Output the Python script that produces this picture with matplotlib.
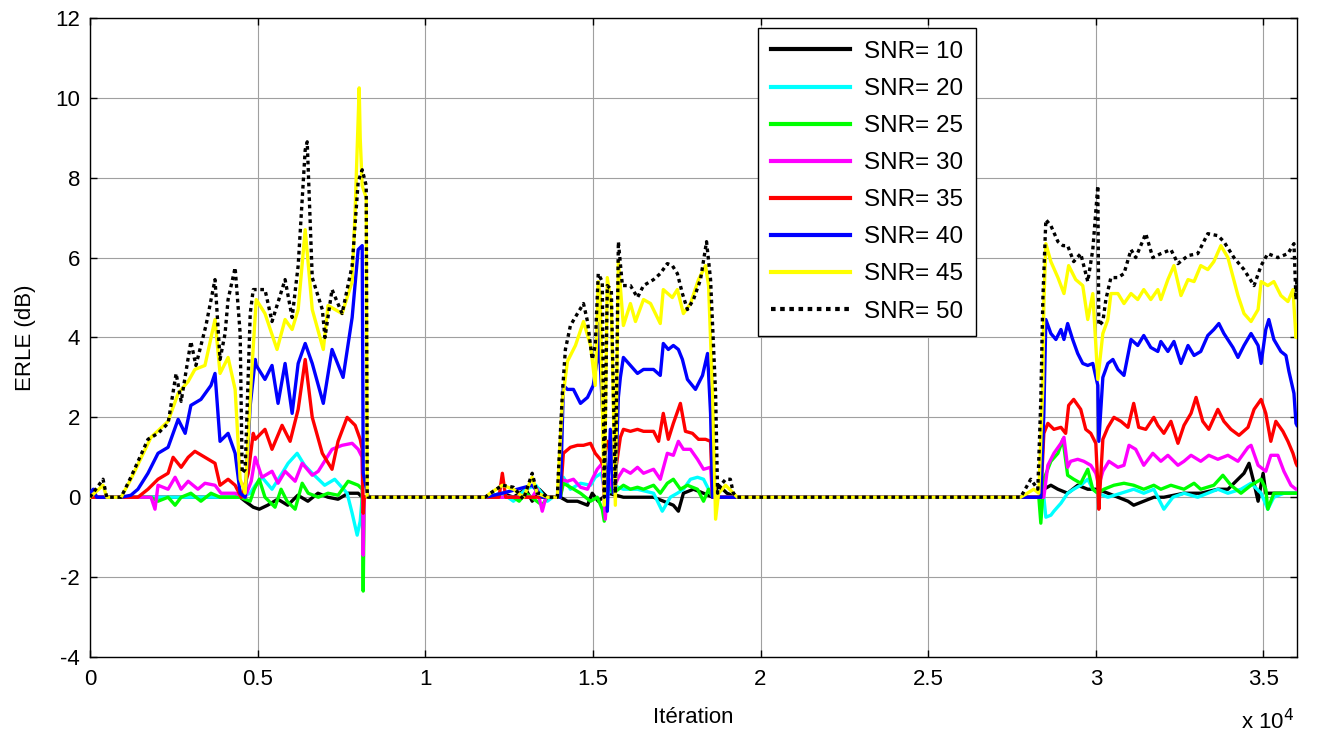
import matplotlib
matplotlib.use("Agg")
import matplotlib.pyplot as plt
from matplotlib import font_manager

# ERLE curves per SNR (x in units of 10^4 iterations, y in dB)
x_snr10 = [0, 0.448, 0.463, 0.487, 0.505, 0.530, 0.560, 0.590, 0.620, 0.650, 0.680, 0.710, 0.740, 0.770, 0.800, 0.812, 0.830,
           1.179, 1.230, 1.263, 1.300, 1.319, 1.340, 1.364, 1.403, 1.424, 1.454, 1.484, 1.498, 1.516, 1.546, 1.591, 1.633, 1.681,
           1.740, 1.755, 1.770, 1.800, 1.830, 1.857, 1.875, 1.900, 1.931,
           2.776, 2.836, 2.845, 2.866, 2.887, 2.916, 2.946, 2.976, 3.006, 3.036, 3.066, 3.096, 3.113, 3.143, 3.173, 3.203, 3.263,
           3.313, 3.364, 3.394, 3.424, 3.442, 3.457, 3.472, 3.484, 3.499, 3.507, 3.543, 3.6]
y_snr10 = [0, 0, -0.1, -0.25, -0.3, -0.2, -0.05, -0.2, 0.05, -0.1, 0.1, 0.0, -0.05, 0.1, 0.1, 0.0, 0.0,
           0.0, 0.1, 0.0, 0.2, -0.1, 0.2, 0.0, 0.0, -0.1, -0.1, -0.2, 0.1, -0.1, 0.1, 0.0, 0.0, 0.0,
           -0.2, -0.35, 0.1, 0.2, 0.1, 0.0, 0.3, 0.1, 0.0,
           0.0, 0.0, 0.2, 0.3, 0.2, 0.1, 0.3, 0.2, 0.2, 0.1, 0.0, -0.1, -0.2, -0.1, 0.0, 0.0, 0.1,
           0.1, 0.2, 0.2, 0.45, 0.6, 0.85, 0.35, -0.1, 0.6, 0.1, 0.1, 0.1]

x_snr20 = [0, 0.448, 0.478, 0.493, 0.513, 0.543, 0.573, 0.591, 0.618, 0.640, 0.663, 0.700, 0.730, 0.767, 0.782, 0.797, 0.806, 0.812, 0.830,
           1.179, 1.230, 1.263, 1.300, 1.330, 1.364, 1.380, 1.403, 1.412, 1.433, 1.463, 1.493, 1.507, 1.525, 1.540, 1.560, 1.591,
           1.633, 1.681, 1.707, 1.731, 1.752, 1.770, 1.791, 1.812, 1.830, 1.851, 1.860, 1.931,
           2.776, 2.845, 2.851, 2.866, 2.875, 2.896, 2.916, 2.934, 2.955, 2.976, 2.991, 3.006, 3.036, 3.075, 3.113, 3.143, 3.173,
           3.203, 3.230, 3.263, 3.304, 3.334, 3.364, 3.394, 3.433, 3.463, 3.493, 3.513, 3.531, 3.561, 3.6]
y_snr20 = [0, 0, 0.1, 0.3, 0.5, 0.2, 0.6, 0.85, 1.1, 0.8, 0.6, 0.3, 0.45, 0.1, -0.4, -0.95, -0.6, 0.0, 0.0,
           0.0, 0.1, -0.1, 0.2, 0.3, -0.1, 0.0, 0.0, 0.5, 0.2, 0.35, 0.3, 0.5, 0.6, 0.0, 0.3, 0.2,
           0.2, 0.1, -0.35, 0.0, 0.1, 0.2, 0.45, 0.5, 0.45, 0.1, 0.0, 0.0,
           0.0, 0.0, -0.5, -0.45, -0.35, -0.15, 0.1, 0.2, 0.3, 0.45, 0.2, 0.1, 0.0, 0.1, 0.2, 0.1, 0.2,
           -0.3, 0.0, 0.1, 0.0, 0.1, 0.2, 0.1, 0.2, 0.35, 0.1, -0.3, 0.0, 0.1, 0.1]

x_snr25 = [0, 0.182, 0.203, 0.233, 0.254, 0.272, 0.301, 0.331, 0.361, 0.388, 0.448, 0.478, 0.490, 0.505, 0.522, 0.552, 0.570,
           0.588, 0.612, 0.633, 0.651, 0.681, 0.710, 0.740, 0.770, 0.800, 0.812, 0.815, 0.818, 0.830,
           1.179, 1.263, 1.280, 1.300, 1.349, 1.364, 1.403, 1.412, 1.433, 1.463, 1.493, 1.513, 1.528, 1.534, 1.546, 1.561, 1.591,
           1.612, 1.633, 1.651, 1.681, 1.701, 1.722, 1.740, 1.761, 1.782, 1.812, 1.830, 1.845, 1.857, 1.931,
           2.776, 2.830, 2.836, 2.845, 2.866, 2.887, 2.902, 2.916, 2.934, 2.955, 2.976, 2.991, 3.006, 3.024, 3.054, 3.084, 3.113,
           3.143, 3.173, 3.194, 3.224, 3.263, 3.293, 3.313, 3.352, 3.379, 3.403, 3.433, 3.463, 3.493, 3.507, 3.513, 3.531, 3.561, 3.6]
y_snr25 = [0, 0, -0.1, 0.0, -0.2, 0.0, 0.1, -0.1, 0.1, 0.0, 0.0, -0.1, 0.2, 0.45, 0.0, -0.25, 0.2,
           -0.1, -0.3, 0.35, 0.1, 0.0, 0.1, 0.05, 0.4, 0.3, 0.2, -2.35, 0.0, 0.0,
           0.0, 0.0, -0.1, 0.1, -0.2, 0.0, 0.0, 0.35, 0.25, 0.1, -0.1, 0.0, -0.3, -0.6, 0.3, 0.1, 0.3,
           0.2, 0.25, 0.2, 0.3, 0.1, 0.35, 0.45, 0.2, 0.3, 0.2, -0.1, 0.2, 0.0, 0.0,
           0.0, 0.0, -0.65, 0.45, 0.9, 1.1, 1.45, 0.55, 0.45, 0.35, 0.7, 0.2, 0.1, 0.2, 0.3, 0.35, 0.3,
           0.2, 0.3, 0.2, 0.3, 0.2, 0.35, 0.2, 0.3, 0.55, 0.3, 0.1, 0.3, 0.45, 0.2, -0.3, 0.1, 0.1, 0.1]

x_snr30 = [0, 0.182, 0.194, 0.203, 0.233, 0.254, 0.272, 0.293, 0.322, 0.343, 0.373, 0.391, 0.433, 0.463, 0.481, 0.493, 0.513,
           0.543, 0.561, 0.582, 0.612, 0.633, 0.663, 0.681, 0.722, 0.752, 0.782, 0.800, 0.812, 0.815, 0.818, 0.830,
           1.179, 1.319, 1.334, 1.349, 1.360, 1.397, 1.403, 1.424, 1.442, 1.463, 1.484, 1.498, 1.513, 1.528, 1.537, 1.546, 1.561,
           1.576, 1.591, 1.612, 1.633, 1.651, 1.681, 1.701, 1.722, 1.740, 1.755, 1.770, 1.791, 1.812, 1.830, 1.851, 1.857, 1.931,
           2.776, 2.845, 2.857, 2.875, 2.896, 2.905, 2.916, 2.925, 2.946, 2.964, 2.985, 3.000, 3.009, 3.021, 3.039, 3.066, 3.084,
           3.099, 3.119, 3.143, 3.170, 3.194, 3.215, 3.245, 3.263, 3.284, 3.313, 3.337, 3.364, 3.394, 3.424, 3.454, 3.463, 3.484,
           3.507, 3.522, 3.543, 3.561, 3.582, 3.597, 3.6]
y_snr30 = [0, 0, -0.3, 0.3, 0.2, 0.5, 0.2, 0.4, 0.2, 0.35, 0.3, 0.1, 0.1, 0.0, 0.4, 1.0, 0.5,
           0.65, 0.35, 0.65, 0.4, 0.85, 0.55, 0.65, 1.2, 1.3, 1.35, 1.2, 1.0, -1.45, 0.0, 0.0,
           0.0, 0.0, 0.2, -0.35, 0.0, 0.0, 0.45, 0.4, 0.45, 0.25, 0.2, 0.45, 0.7, 0.85, -0.55, 0.5, 0.2,
           0.5, 0.7, 0.6, 0.75, 0.6, 0.7, 0.45, 1.1, 1.05, 1.4, 1.2, 1.2, 0.95, 0.7, 0.75, 0.0, 0.0,
           0.0, 0.0, 0.8, 1.1, 1.35, 1.5, 0.75, 0.9, 0.95, 0.9, 0.8, 0.6, 0.3, 0.65, 0.9, 0.75, 0.8,
           1.3, 1.2, 0.8, 1.1, 0.9, 1.05, 0.8, 0.9, 1.05, 0.9, 1.05, 0.95, 1.05, 0.9, 1.25, 1.3, 0.8,
           0.65, 1.05, 1.05, 0.65, 0.3, 0.2, 0.2]

x_snr35 = [0, 0.143, 0.173, 0.203, 0.233, 0.248, 0.272, 0.293, 0.313, 0.343, 0.373, 0.388, 0.412, 0.433, 0.451, 0.472, 0.487,
           0.493, 0.522, 0.543, 0.573, 0.597, 0.621, 0.642, 0.663, 0.693, 0.722, 0.740, 0.767, 0.791, 0.806, 0.812, 0.815, 0.818, 0.830,
           1.179, 1.220, 1.230, 1.240, 1.403, 1.412, 1.433, 1.454, 1.472, 1.493, 1.507, 1.522, 1.531, 1.543, 1.558, 1.570, 1.582,
           1.591, 1.612, 1.633, 1.651, 1.681, 1.696, 1.710, 1.725, 1.740, 1.761, 1.776, 1.797, 1.815, 1.836, 1.851, 1.857, 1.931,
           2.776, 2.836, 2.845, 2.857, 2.875, 2.896, 2.910, 2.919, 2.934, 2.955, 2.970, 2.985, 3.000, 3.006, 3.009, 3.021, 3.036,
           3.054, 3.075, 3.096, 3.113, 3.128, 3.149, 3.173, 3.185, 3.203, 3.224, 3.245, 3.263, 3.284, 3.299, 3.319, 3.337, 3.364,
           3.382, 3.403, 3.427, 3.454, 3.472, 3.493, 3.507, 3.522, 3.537, 3.558, 3.573, 3.588, 3.597, 3.6]
y_snr35 = [0, 0, 0.2, 0.45, 0.6, 1.0, 0.75, 1.0, 1.15, 1.0, 0.85, 0.3, 0.45, 0.3, 0.0, 0.6, 1.6,
           1.45, 1.7, 1.2, 1.8, 1.4, 2.2, 3.45, 2.0, 1.1, 0.7, 1.4, 2.0, 1.8, 1.45, 1.2, -0.4, 0.0, 0.0,
           0.0, 0.0, 0.6, 0.0, 0.0, 1.1, 1.25, 1.3, 1.3, 1.35, 1.1, 0.95, 0.8, 1.4, 1.25, 0.8, 1.5,
           1.7, 1.65, 1.7, 1.65, 1.65, 1.4, 2.1, 1.45, 1.85, 2.35, 1.65, 1.6, 1.45, 1.45, 1.4, 0.0, 0.0,
           0.0, 0.0, 1.6, 1.85, 1.7, 1.75, 1.6, 2.3, 2.45, 2.2, 1.7, 1.6, 1.35, 0.3, -0.3, 1.45, 1.75,
           2.0, 1.9, 1.75, 2.35, 1.75, 1.7, 2.0, 1.8, 1.6, 1.9, 1.35, 1.8, 2.1, 2.5, 1.9, 1.7, 2.2,
           1.9, 1.7, 1.55, 1.75, 2.2, 2.45, 2.1, 1.4, 1.9, 1.65, 1.4, 1.1, 0.85, 0.8]

x_snr40 = [0, 0.010, 0.020, 0.093, 0.122, 0.143, 0.173, 0.203, 0.233, 0.263, 0.284, 0.301, 0.331, 0.361, 0.373, 0.388, 0.412,
           0.433, 0.448, 0.463, 0.478, 0.493, 0.496, 0.522, 0.543, 0.561, 0.582, 0.603, 0.621, 0.642, 0.663, 0.696, 0.722, 0.755,
           0.782, 0.800, 0.812, 0.815, 0.830,
           1.179, 1.230, 1.319, 1.349, 1.403, 1.412, 1.424, 1.442, 1.463, 1.484, 1.501, 1.513, 1.516, 1.528, 1.537, 1.543, 1.552,
           1.561, 1.567, 1.576, 1.582, 1.591, 1.612, 1.633, 1.651, 1.681, 1.701, 1.710, 1.725, 1.740, 1.755, 1.767, 1.782, 1.806,
           1.827, 1.842, 1.851, 1.857, 1.931,
           2.776, 2.836, 2.845, 2.851, 2.866, 2.881, 2.896, 2.905, 2.916, 2.931, 2.946, 2.961, 2.976, 2.991, 3.006, 3.009, 3.021,
           3.036, 3.051, 3.066, 3.084, 3.105, 3.125, 3.143, 3.164, 3.185, 3.194, 3.215, 3.233, 3.254, 3.275, 3.293, 3.313, 3.334,
           3.352, 3.367, 3.382, 3.409, 3.424, 3.442, 3.463, 3.484, 3.493, 3.507, 3.516, 3.531, 3.552, 3.567, 3.576, 3.591, 3.597, 3.6]
y_snr40 = [0.1, 0.2, 0.0, 0.0, 0.05, 0.2, 0.6, 1.1, 1.25, 1.95, 1.6, 2.3, 2.45, 2.8, 3.1, 1.4, 1.6,
           1.1, 0.1, 0.0, 2.3, 3.45, 3.3, 2.95, 3.3, 2.35, 3.35, 2.1, 3.35, 3.85, 3.35, 2.35, 3.7, 3.0,
           4.5, 6.2, 6.3, 0.6, 0.0,
           0.0, 0.1, 0.3, 0.0, 0.0, 2.8, 2.7, 2.7, 2.35, 2.5, 2.8, 3.45, 4.35, 2.3, 0.95, -0.35, 1.7,
           0.1, 0.2, 2.5, 3.0, 3.5, 3.3, 3.1, 3.2, 3.2, 3.05, 3.85, 3.7, 3.8, 3.7, 3.45, 2.95, 2.7,
           3.05, 3.6, 2.1, 0.0, 0.0,
           0.0, 0.0, 2.1, 4.45, 4.1, 3.95, 4.2, 3.95, 4.35, 3.95, 3.6, 3.35, 3.3, 3.35, 2.8, 1.4, 3.0,
           3.35, 3.45, 3.2, 3.05, 3.95, 3.8, 4.05, 3.75, 3.65, 3.9, 3.65, 3.9, 3.35, 3.8, 3.55, 3.65, 4.05,
           4.2, 4.35, 4.1, 3.75, 3.5, 3.8, 4.1, 3.8, 3.35, 4.2, 4.45, 3.95, 3.65, 3.55, 3.15, 2.6, 1.85, 1.8]

x_snr45 = [0, 0.039, 0.050, 0.093, 0.122, 0.182, 0.233, 0.263, 0.293, 0.313, 0.343, 0.373, 0.388, 0.412, 0.433, 0.448, 0.463,
           0.481, 0.496, 0.522, 0.558, 0.582, 0.603, 0.621, 0.642, 0.663, 0.696, 0.710, 0.752, 0.782, 0.791, 0.803, 0.806, 0.812,
           0.824, 0.827, 0.830,
           1.179, 1.194, 1.230, 1.263, 1.293, 1.319, 1.334, 1.364, 1.394, 1.397, 1.409, 1.424, 1.448, 1.472, 1.493, 1.507, 1.516,
           1.522, 1.534, 1.543, 1.555, 1.567, 1.576, 1.591, 1.612, 1.627, 1.651, 1.672, 1.701, 1.710, 1.737, 1.752, 1.770, 1.791,
           1.815, 1.836, 1.845, 1.857, 1.866, 1.875, 1.896, 1.919, 1.931,
           2.776, 2.815, 2.830, 2.842, 2.845, 2.851, 2.866, 2.887, 2.905, 2.919, 2.940, 2.961, 2.976, 2.991, 3.006, 3.021, 3.036,
           3.045, 3.066, 3.084, 3.105, 3.125, 3.143, 3.164, 3.185, 3.194, 3.215, 3.233, 3.254, 3.275, 3.293, 3.313, 3.334, 3.352,
           3.373, 3.394, 3.424, 3.442, 3.463, 3.484, 3.493, 3.513, 3.531, 3.552, 3.573, 3.588, 3.597, 3.6]
y_snr45 = [0, 0.3, 0.0, 0.0, 0.45, 1.5, 1.9, 2.6, 2.9, 3.2, 3.3, 4.45, 3.1, 3.5, 2.7, 0.45, 0.1,
           2.95, 4.95, 4.6, 3.7, 4.45, 4.2, 4.7, 6.7, 4.7, 3.7, 4.8, 4.6, 5.4, 7.2, 10.25, 9.0, 7.8,
           7.5, 0.0, 0.0,
           0.0, 0.1, 0.3, 0.2, 0.0, 0.5, 0.1, 0.0, 0.0, 0.5, 2.4, 3.4, 3.8, 4.4, 3.8, 2.8, 5.4,
           5.0, -0.2, 5.5, 4.8, -0.2, 5.9, 4.3, 4.85, 4.4, 4.95, 4.85, 4.35, 5.2, 5.0, 5.2, 4.6, 4.85,
           5.45, 5.8, 5.3, 2.6, -0.55, 0.1, 0.3, 0.1, 0.0,
           0.0, 0.2, 0.1, 2.8, 4.85, 6.35, 5.9, 5.5, 5.1, 5.8, 5.45, 5.3, 4.45, 5.1, 2.95, 4.1, 4.45,
           5.1, 5.1, 4.85, 5.1, 4.95, 5.2, 4.95, 5.2, 4.95, 5.45, 5.8, 5.05, 5.45, 5.4, 5.8, 5.7, 5.9,
           6.3, 6.0, 5.05, 4.6, 4.4, 4.7, 5.4, 5.3, 5.4, 5.05, 4.9, 5.2, 4.0, 4.3]

x_snr50 = [0, 0.039, 0.050, 0.093, 0.122, 0.173, 0.203, 0.233, 0.257, 0.272, 0.301, 0.316, 0.346, 0.373, 0.388, 0.403, 0.412,
           0.433, 0.448, 0.454, 0.463, 0.478, 0.487, 0.522, 0.543, 0.582, 0.603, 0.621, 0.642, 0.648, 0.663, 0.693, 0.701, 0.722,
           0.752, 0.782, 0.800, 0.812, 0.821, 0.824, 0.827, 0.830,
           1.179, 1.194, 1.230, 1.263, 1.293, 1.319, 1.334, 1.349, 1.364, 1.394, 1.397, 1.409, 1.418, 1.433, 1.454, 1.472, 1.484,
           1.498, 1.507, 1.516, 1.528, 1.534, 1.543, 1.555, 1.567, 1.576, 1.588, 1.612, 1.633, 1.651, 1.681, 1.701, 1.722, 1.737,
           1.752, 1.767, 1.782, 1.800, 1.821, 1.839, 1.851, 1.866, 1.872, 1.881, 1.896, 1.910, 1.919, 1.931,
           2.776, 2.806, 2.827, 2.836, 2.842, 2.851, 2.866, 2.887, 2.902, 2.916, 2.934, 2.955, 2.976, 2.991, 3.006, 3.009, 3.021,
           3.030, 3.045, 3.066, 3.084, 3.105, 3.119, 3.149, 3.170, 3.194, 3.224, 3.245, 3.275, 3.304, 3.334, 3.364, 3.382, 3.412,
           3.442, 3.472, 3.493, 3.513, 3.543, 3.573, 3.591, 3.597, 3.6]
y_snr50 = [0, 0.45, 0.0, 0.0, 0.5, 1.45, 1.6, 1.85, 3.1, 2.4, 3.9, 3.3, 4.3, 5.45, 3.45, 4.1, 4.95,
           5.75, 4.1, 0.6, 0.7, 4.6, 5.2, 5.2, 4.4, 5.45, 4.5, 5.8, 8.7, 8.9, 5.5, 4.7, 4.0, 5.2,
           4.6, 5.8, 7.9, 8.2, 7.9, 7.8, 0.1, 0.0,
           0.0, 0.1, 0.3, 0.25, -0.05, 0.6, 0.1, 0.1, 0.0, 0.0, 0.6, 2.6, 3.7, 4.3, 4.6, 4.85, 4.4,
           3.45, 3.8, 5.6, 5.4, 0.0, 5.3, 5.2, 0.1, 6.4, 5.3, 5.3, 5.0, 5.3, 5.45, 5.6, 5.85, 5.8,
           5.6, 5.1, 4.7, 4.95, 5.45, 6.4, 5.45, 2.6, 0.1, 0.3, 0.45, 0.45, 0.1, 0.0,
           0.0, 0.45, 0.2, 2.45, 4.95, 6.95, 6.8, 6.4, 6.3, 6.3, 5.9, 6.1, 5.4, 6.2, 7.8, 4.3, 4.4,
           4.95, 5.5, 5.5, 5.6, 6.2, 6.0, 6.6, 6.0, 6.1, 6.2, 5.85, 6.05, 6.1, 6.6, 6.55, 6.4, 6.0,
           5.7, 5.3, 5.8, 6.1, 6.0, 6.1, 6.35, 4.95, 5.5]

labels = ["SNR= 10", "SNR= 20", "SNR= 25", "SNR= 30", "SNR= 35", "SNR= 40", "SNR= 45", "SNR= 50"]
colors = ["#000000", "#00ffff", "#00ff00", "#ff00ff", "#ff0000", "#0000ff", "#ffff00", "#000000"]

xs = [x_snr10, x_snr20, x_snr25, x_snr30, x_snr35, x_snr40, x_snr45, x_snr50]
ys = [y_snr10, y_snr20, y_snr25, y_snr30, y_snr35, y_snr40, y_snr45, y_snr50]

installed = {f.name for f in font_manager.fontManager.ttflist}
narrow = "Liberation Sans Narrow" if "Liberation Sans Narrow" in installed else "Liberation Sans"
plt.rcParams['font.family'] = ['Liberation Sans', 'DejaVu Sans']
plt.rcParams['axes.unicode_minus'] = False

fig = plt.figure(figsize=(13.17, 7.38), dpi=100)
ax = fig.add_axes([0.0683, 0.1098, 0.9165, 0.8658])

for i in range(8):
    if i == 7:
        ax.plot(xs[i], ys[i], color=colors[i], lw=2.4, linestyle=(0, (1.1, 1.1)),
                label=labels[i], zorder=3 + i)
    else:
        ax.plot(xs[i], ys[i], color=colors[i], lw=2.4, label=labels[i], zorder=3 + i)

ax.set_xlim(0, 3.6)
ax.set_ylim(-4, 12)
ax.set_xticks([0, 0.5, 1, 1.5, 2, 2.5, 3, 3.5])
ax.set_xticklabels(["0", "0.5", "1", "1.5", "2", "2.5", "3", "3.5"], fontfamily=narrow, fontsize=16)
ax.set_yticks(range(-4, 13, 2))
ax.tick_params(axis='y', labelsize=16, pad=7)
ax.tick_params(axis='x', pad=9)
ax.tick_params(direction='in', length=5, width=1, top=True, right=True)
ax.grid(True, color='#a0a0a0', linewidth=0.8)
for s in ax.spines.values():
    s.set_linewidth(1.0)

ax.set_xlabel("Itération", fontfamily=narrow, fontsize=16, labelpad=12)
ax.set_ylabel("ERLE (dB)", fontsize=16, labelpad=14)
fig.text(0.942, 0.012, r"x 10$^4$", fontfamily=narrow, fontsize=16)

leg = ax.legend(loc='upper left', bbox_to_anchor=(0.5534, 0.985), fontsize=17.5,
                handlelength=3.25, labelspacing=0.62, handletextpad=0.55,
                borderpad=0.55, borderaxespad=0, fancybox=False, framealpha=1,
                edgecolor='black')
leg.get_frame().set_linewidth(1.0)
for ln in leg.get_lines():
    ln.set_linewidth(3)

fig.savefig("out.png", dpi=100)
